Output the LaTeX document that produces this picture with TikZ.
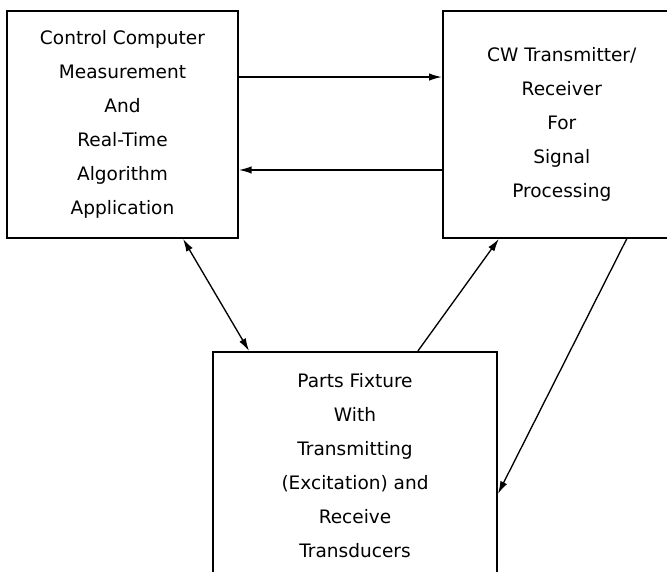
\documentclass[tikz,border=0pt]{standalone}
\usepackage{fontspec}
\setmainfont{DejaVu Sans}
\usepackage{tikz}
\usetikzlibrary{arrows.meta,positioning}

\begin{document}
\begin{tikzpicture}[x=0.75pt, y=-0.75pt, node distance=84pt,
  blk/.style={rectangle, draw, line width=1.4pt, align=center, inner sep=0pt,
    font=\fontsize{13.9}{25.5}\selectfont},
  link/.style={line width=1pt},
  >={Latex[length=9.5pt,width=5.5pt]}]
\clip (0,0) rectangle (667,571);
\node[blk, minimum width=173.2pt, minimum height=170.2pt] (ctrl) at (122.5,124.5) {Control Computer\\Measurement\\And\\Real-Time\\Algorithm\\Application};
\node[blk, minimum width=178.5pt, minimum height=170.2pt, right=152.2pt of ctrl] (cw) {CW Transmitter/\\Receiver\\For\\Signal\\Processing};
\node[blk, minimum width=213pt, minimum height=171pt, below=84pt of ctrl, xshift=174.4pt] (fix) {Parts Fixture\\With\\Transmitting\\(Excitation) and\\Receive\\Transducers};

\draw[link,->] ([yshift=35.6pt]ctrl.east) -- ([yshift=35.6pt]cw.west);
\draw[link,->] ([yshift=-34.1pt]cw.west) -- ([yshift=-34.1pt]ctrl.east);
\draw[link,<->] ([xshift=45.4pt]ctrl.south) -- ([xshift=-79.5pt]fix.north);
\draw[link,->] ([xshift=47.2pt]fix.north) -- ([xshift=-47.2pt]cw.south);
\draw[link,->] ([xshift=48.7pt]cw.south) -- ([yshift=-21pt]fix.east);
\end{tikzpicture}
\end{document}
